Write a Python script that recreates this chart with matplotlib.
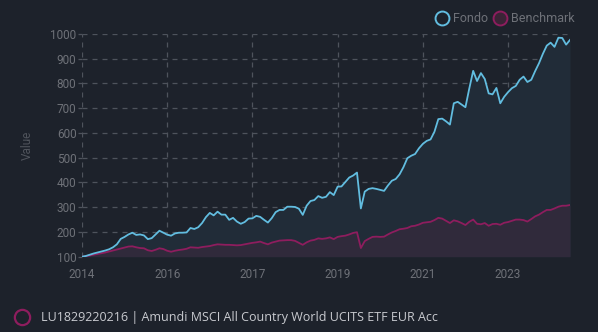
import matplotlib
matplotlib.use("Agg")
import matplotlib.pyplot as plt
from matplotlib.lines import Line2D

fondo = [100, 103, 108, 113, 117, 121, 125, 130, 138, 150,
         172, 180, 190, 197, 188, 190, 186, 171, 175, 190,
         205, 197, 189, 185, 194, 197, 197, 198, 216, 212,
         219, 236, 260, 277, 267, 282, 270, 270, 249, 257,
         242, 233, 240, 254, 255, 265, 261, 249, 238, 256,
         280, 289, 289, 302, 302, 301, 294, 269, 306, 325,
         329, 345, 338, 342, 361, 349, 383, 384, 402, 420,
         428, 440, 295, 363, 374, 377, 374, 370, 366, 388,
         407, 414, 433, 462, 498, 508, 515, 538, 556, 568,
         574, 605, 656, 658, 647, 634, 720, 726, 715, 704,
         780, 851, 810, 842, 818, 760, 756, 782, 720, 746,
         765, 781, 790, 815, 828, 806, 815, 850, 882, 920,
         953, 965, 948, 985, 984, 957, 976]

benchmark = [100, 102, 105, 108, 111, 114, 117, 121, 125, 129,
             133, 137, 141, 142, 138, 135, 134, 126, 123, 128,
             134, 131, 124, 120, 124, 127, 129, 132, 138, 137,
             136, 139, 141, 143, 147, 150, 149, 148, 148, 147,
             146, 147, 150, 153, 156, 158, 161, 155, 150, 157,
             161, 165, 166, 167, 167, 164, 156, 148, 158, 165,
             168, 174, 172, 174, 178, 171, 180, 183, 185, 190,
             196, 199, 135, 163, 172, 180, 181, 180, 181, 190,
             198, 204, 211, 213, 216, 223, 225, 230, 237, 239,
             241, 248, 257, 254, 245, 236, 247, 243, 236, 228,
             241, 250, 233, 231, 236, 225, 232, 233, 229, 237,
             240, 245, 250, 250, 248, 242, 252, 263, 270, 280,
             289, 289, 295, 302, 306, 306, 309]

tick_labels = ["2014", "2016", "2017", "2019", "2021", "2023"]
y_ticks = [100, 200, 300, 400, 500, 600, 700, 800, 900, 1000]
series_names = ["Fondo", "Benchmark"]
fund_label = "LU1829220216 | Amundi MSCI All Country World UCITS ETF EUR Acc"

BG = "#1d222b"
C_FONDO = "#62bde0"
C_BENCH = "#8e1d5e"
F_FONDO = "#212c38"
F_BENCH = "#302a3b"
GRID = "#4e535c"
TXT = "#6e7178"

plt.rcParams['font.family'] = ['Roboto', 'DejaVu Sans']

fig = plt.figure(figsize=(5.98, 3.32), dpi=100, facecolor=BG)
ax = fig.add_axes([82/598, 1 - 256.7/332, 488/598, 222.7/332], facecolor=BG)

x = list(range(len(fondo)))
ax.fill_between(x, 100, fondo, color=F_FONDO, lw=0, zorder=1)
ax.fill_between(x, 100, benchmark, color=F_BENCH, lw=0, zorder=2)
ax.plot(x, fondo, color=C_FONDO, lw=1.3, zorder=4)
ax.plot(x, benchmark, color=C_BENCH, lw=1.3, zorder=3)

ax.set_xlim(0, len(fondo) - 1)
ax.set_ylim(100, 1000)
ax.set_xticks([i * 22 for i in range(len(tick_labels))])
ax.set_xticklabels(tick_labels)
ax.set_yticks(y_ticks)
ax.grid(True, color=GRID, ls=(0, (4, 4)), lw=0.9, zorder=0)
ax.set_axisbelow(True)
for s in ax.spines.values():
    s.set_visible(False)
ax.tick_params(axis='y', colors=GRID, labelcolor=TXT, labelsize=8.5, length=3, width=0.9, pad=1)
ax.tick_params(axis='x', colors=BG, labelcolor=TXT, labelsize=8.5, length=0, pad=8)
ax.set_ylabel("Value", color="#50545c", fontsize=8.5, labelpad=12)

handles = [
    Line2D([], [], ls='none', marker='o', ms=10, mfc=BG, mec=C_FONDO, mew=1.4),
    Line2D([], [], ls='none', marker='o', ms=10, mfc="#3a2436", mec=C_BENCH, mew=1.4),
]
leg = fig.legend(handles, series_names, loc='upper right', bbox_to_anchor=(580/598, 1 - 7/332),
                 ncol=2, frameon=False, fontsize=9, handletextpad=0.4, columnspacing=0.45,
                 handlelength=1.0, borderaxespad=0)
for t in leg.get_texts():
    t.set_color(TXT)

fig.add_artist(Line2D([22/598], [1 - 317/332], ls='none', marker='o', ms=11, mfc=BG, mec=C_BENCH,
                      mew=1.6, transform=fig.transFigure))
fig.text(41/598, 1 - 317/332, fund_label, color="#c9cbd0", fontsize=9,
         family=['Open Sans', 'DejaVu Sans'], va='center', ha='left')

fig.savefig("out.png", dpi=100, facecolor=BG)
